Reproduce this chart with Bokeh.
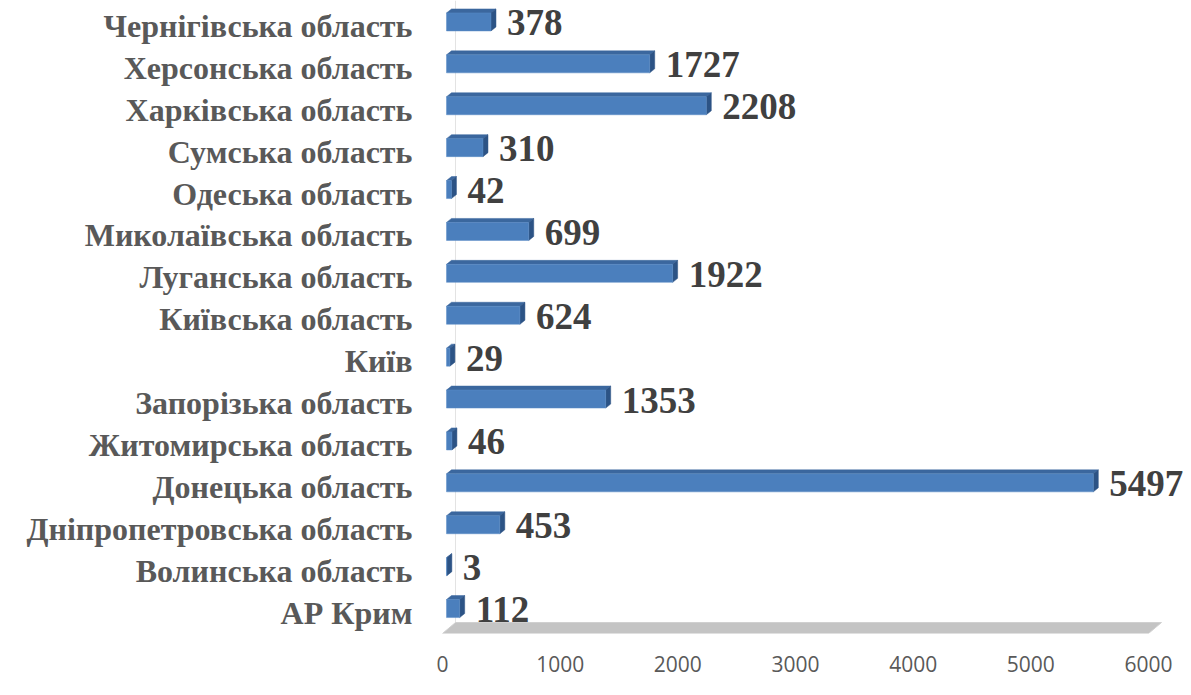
from bokeh.plotting import figure
from bokeh.models import Range1d, FixedTicker, ColumnDataSource
from bokeh.embed import file_html
from bokeh.resources import INLINE
from bokeh.core.properties import value

# ---- data (bottom to top) ----
categories = [
    "АР Крим",
    "Волинська область",
    "Дніпропетровська область",
    "Донецька область",
    "Житомирська область",
    "Запорізька область",
    "Київ",
    "Київська область",
    "Луганська область",
    "Миколаївська область",
    "Одеська область",
    "Сумська область",
    "Харківська область",
    "Херсонська область",
    "Чернігівська область",
]
values = [112, 3, 453, 5497, 46, 1353, 29, 624, 1922, 699, 42, 310, 2208, 1727, 378]
x_ticks = [0, 1000, 2000, 3000, 4000, 5000, 6000]
x_max = 6000

# ---- layout ----
W, H = 1191, 695
LEFT, BOTTOM = 430, 62
frame_w = W - LEFT
frame_h = H - BOTTOM
PX_X = 706 / x_max          # pixels per data unit along x
PX_Y = 41.9                 # pixels per category
xs0 = -12 / PX_X
xr = Range1d(xs0, xs0 + frame_w / PX_X)
yr = Range1d(-0.5, -0.5 + frame_h / PX_Y)

p = figure(width=W, height=H, x_range=xr, y_range=yr,
           output_backend="svg", toolbar_location=None,
           min_border_left=LEFT, min_border_bottom=BOTTOM,
           min_border_top=0, min_border_right=0)
p.outline_line_color = None
p.background_fill_color = "white"
p.border_fill_color = "white"
p.xgrid.visible = False
p.ygrid.visible = False

# 3D offsets (pixels -> data units)
def ux(px):
    return px / PX_X

def uy(px):
    return px / PX_Y

floor_dx, floor_dy = ux(13), uy(11)
front_dx, front_dy = ux(4), uy(4)
depth_dx, depth_dy = ux(5), uy(4)
bar_h = uy(18)

# back wall edge line
p.segment(x0=[floor_dx], y0=[-0.5 + floor_dy], x1=[floor_dx], y1=[yr.end],
          line_color="#E3E3E3", line_width=1)

# floor
p.patch(x=[0, x_max, x_max + floor_dx, floor_dx],
        y=[-0.5, -0.5, -0.5 + floor_dy, -0.5 + floor_dy],
        fill_color="#C4C4C4", line_color="#D0D0D0", line_width=1)

# bars
idx = list(range(len(categories)))
fl, fr, fb, ft = [], [], [], []
top_xs, top_ys, side_xs, side_ys = [], [], [], []
for i, v in zip(idx, values):
    l = front_dx
    r = v + front_dx
    b = i - bar_h / 2 + front_dy
    t = i + bar_h / 2 + front_dy
    fl.append(l); fr.append(r); fb.append(b); ft.append(t)
    top_xs.append([l, r, r + depth_dx, l + depth_dx])
    top_ys.append([t, t, t + depth_dy, t + depth_dy])
    side_xs.append([r, r, r + depth_dx, r + depth_dx])
    side_ys.append([b, t, t + depth_dy, b + depth_dy])

p.patches(xs=top_xs, ys=top_ys, fill_color="#3B679E", line_color="#3B679E", line_width=0.5)
p.patches(xs=side_xs, ys=side_ys, fill_color="#2C5385", line_color="#2C5385", line_width=0.5)
p.quad(left=fl, right=fr, bottom=fb, top=ft, fill_color="#4B7FBD",
       line_color="#5B8CC6", line_width=0.5)

# value labels
src = ColumnDataSource(dict(x=values, y=idx, t=[str(v) for v in values]))
p.text(x="x", y="y", text="t", source=src, x_offset=20, y_offset=-3,
       text_font=value("Liberation Serif"), text_font_style="bold",
       text_font_size="37px", text_color="#404040",
       text_align="left", text_baseline="middle")

# x axis
xa = p.xaxis[0]
xa.ticker = FixedTicker(ticks=x_ticks)
xa.axis_line_color = None
xa.major_tick_line_color = None
xa.minor_tick_line_color = None
xa.major_tick_out = 0
xa.major_label_standoff = 22
xa.major_label_text_font = "Open Sans"
xa.major_label_text_font_size = "21px"
xa.major_label_text_color = "#595959"

# y axis with category labels
ya = p.yaxis[0]
ya.ticker = FixedTicker(ticks=idx)
ya.major_label_overrides = {i: c for i, c in zip(idx, categories)}
ya.axis_line_color = None
ya.major_tick_line_color = None
ya.minor_tick_line_color = None
ya.major_tick_out = 0
ya.major_label_standoff = 18
ya.major_label_text_font = "Liberation Serif"
ya.major_label_text_font_style = "bold"
ya.major_label_text_font_size = "32px"
ya.major_label_text_color = "#595959"

open("out.html", "w").write(file_html(p, INLINE))
